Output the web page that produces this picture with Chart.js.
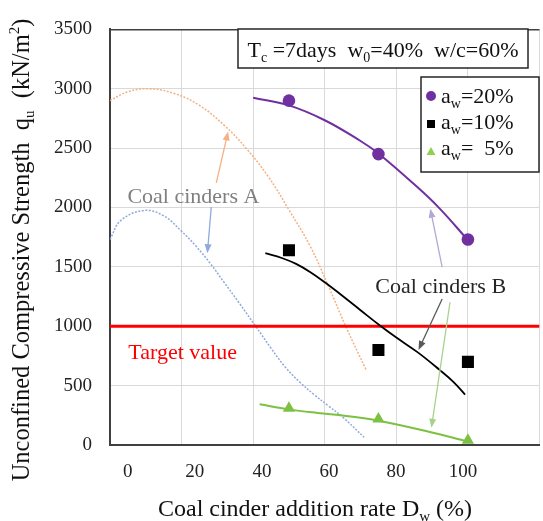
<!DOCTYPE html>
<html>
<head>
<meta charset="utf-8">
<script src="https://cdn.jsdelivr.net/npm/chart.js@4/dist/chart.umd.min.js"></script>
<style>
  html, body { margin: 0; padding: 0; background: #fff; overflow: hidden; }
  #wrap { width: 548px; height: 521px; }
</style>
</head>
<body>
<div id="wrap"><canvas id="chart" width="548" height="521"></canvas></div>
<script>
// x tick labels (%)
const xTickLabels = [0, 20, 40, 60, 80, 100];
const yTicks = [0, 500, 1000, 1500, 2000, 2500, 3000, 3500];

// measured points, coal cinders B
const rateMeasured = [50, 75, 100];
const qu20 = [2900, 2450, 1730];
const qu10 = [1640, 800, 700];
const qu5 = [310, 220, 40];

// trend curves of coal cinders B
const trend20X = [40, 50, 60, 70, 75, 85, 92, 100];
const trend20Y = [2925, 2860, 2735, 2560, 2455, 2195, 1995, 1725];
const trend10X = [43.4, 48, 52, 56, 60, 65, 70, 75.7, 80, 86, 92, 96, 99.2];
const trend10Y = [1615, 1575, 1525, 1455, 1370, 1255, 1135, 1000, 905, 780, 635, 530, 425];
const trend5X = [41.8, 50, 58, 66, 75, 88, 100];
const trend5Y = [343, 300, 270, 245, 205, 120, 30];

// coal cinders A curves (dotted)
const curveA1X = [0, 5, 11, 18, 25, 32, 38, 44, 50, 56, 61, 66, 71.6];
const curveA1Y = [2900, 2975, 3000, 2960, 2860, 2690, 2500, 2270, 1980, 1670, 1340, 990, 630];
const curveA2X = [0, 3, 9.5, 15, 20, 24, 28, 32, 36, 40.7, 45, 49, 53, 57, 61, 65, 71];
const curveA2Y = [1731, 1890, 1975, 1930, 1800, 1675, 1530, 1365, 1200, 1000, 815, 655, 530, 425, 330, 235, 65];

const targetValue = 1000;

const pts = (xs, ys) => xs.map((x, i) => ({ x: x, y: ys[i] }));

const SERIF = '"Liberation Serif", "Times New Roman", serif';
const FRAME = '#404040';
const GRID = '#d9d9d9';

// rich text with sub/superscripts
function fontFor(p, size) {
    const s = p[1] ? Math.round(size * 0.62) : size;
    return s + 'px ' + SERIF;
}
function richWidth(ctx, parts, size) {
    let w = 0;
    parts.forEach(p => { ctx.font = fontFor(p, size); w += ctx.measureText(p[0]).width; });
    return w;
}
function drawRich(ctx, parts, x, y, size, align, color) {
    const w = richWidth(ctx, parts, size);
    let cx = align === 'left' ? x : x - w / 2;
    ctx.fillStyle = color;
    ctx.textAlign = 'left';
    ctx.textBaseline = 'alphabetic';
    parts.forEach(p => {
        ctx.font = fontFor(p, size);
        const dy = p[1] === 'sub' ? size * 0.22 : p[1] === 'sup' ? -size * 0.42 : 0;
        ctx.fillText(p[0], cx, y + dy);
        cx += ctx.measureText(p[0]).width;
    });
}

function arrow(ctx, x1, y1, x2, y2, color) {
    const a = Math.atan2(y2 - y1, x2 - x1), L = 9, W = 3.5;
    const c = Math.cos(a), s = Math.sin(a);
    ctx.strokeStyle = color;
    ctx.fillStyle = color;
    ctx.lineWidth = 1.3;
    ctx.beginPath();
    ctx.moveTo(x1, y1);
    ctx.lineTo(x2 - L * c * 0.7, y2 - L * s * 0.7);
    ctx.stroke();
    ctx.beginPath();
    ctx.moveTo(x2, y2);
    ctx.lineTo(x2 - L * c + W * s, y2 - L * s - W * c);
    ctx.lineTo(x2 - L * c - W * s, y2 - L * s + W * c);
    ctx.closePath();
    ctx.fill();
}

// annotation texts and arrows, in data units
const labels = [
    { text: 'Coal cinders A', x: 23.3, y: 2100, color: '#7f7f7f' },
    { text: 'Coal cinders B', x: 92.4, y: 1335, color: '#262626' },
    { text: 'Target value', x: 20.3, y: 780, color: '#ff0000' }
];
const arrows = [
    { from: [29.7, 2208], to: [33.0, 2640], color: '#f4b183' },
    { from: [28.3, 2004], to: [27.2, 1615], color: '#8faadc' },
    { from: [92.8, 1230], to: [86.2, 800], color: '#595959' },
    { from: [92.8, 1497], to: [89.5, 1990], color: '#b4a7d6' },
    { from: [95.0, 1202], to: [89.8, 145], color: '#a9d18e' }
];

const decorPlugin = {
    id: 'decor',
    afterDatasetsDraw(chart) {
        const ctx = chart.ctx;
        const xs = chart.scales.x, ys = chart.scales.y;
        ctx.save();

        arrows.forEach(a => arrow(ctx,
            xs.getPixelForValue(a.from[0]), ys.getPixelForValue(a.from[1]),
            xs.getPixelForValue(a.to[0]), ys.getPixelForValue(a.to[1]), a.color));

        labels.forEach(l => drawRich(ctx, [[l.text]],
            xs.getPixelForValue(l.x), ys.getPixelForValue(l.y) + 7, 22, 'center', l.color));

        // condition box
        ctx.fillStyle = '#fff';
        ctx.fillRect(238, 29, 290, 39);
        ctx.strokeStyle = '#262626';
        ctx.lineWidth = 1.5;
        ctx.strokeRect(238, 29, 290, 39);
        drawRich(ctx, [['T'], ['c', 'sub'], [' =7days  w'], ['0', 'sub'], ['=40%  w/c=60%']],
            383, 57, 22, 'center', '#111');

        // legend box
        ctx.fillStyle = '#fff';
        ctx.fillRect(421, 77, 118, 95);
        ctx.strokeRect(421, 77, 118, 95);
        const rows = [
            { t: '=20%', y: 103, style: 'circle', color: '#7030a0' },
            { t: '=10%', y: 129, style: 'rect', color: '#000000' },
            { t: '=  5%', y: 155, style: 'triangle', color: '#92d050' }
        ];
        rows.forEach(r => {
            ctx.fillStyle = r.color;
            const mx = 431, my = r.y - 6;
            ctx.beginPath();
            if (r.style === 'circle') {
                ctx.arc(mx, my - 1, 5, 0, Math.PI * 2);
            } else if (r.style === 'rect') {
                ctx.rect(mx - 4, my - 3, 8, 8);
            } else {
                ctx.moveTo(mx, my - 2);
                ctx.lineTo(mx + 4.5, my + 6);
                ctx.lineTo(mx - 4.5, my + 6);
                ctx.closePath();
            }
            ctx.fill();
            drawRich(ctx, [['a'], ['w', 'sub'], [r.t]], 441, r.y, 22, 'left', '#111');
        });

        // axis titles
        drawRich(ctx, [['Coal cinder addition rate D'], ['w', 'sub'], [' (%)']],
            315, 516, 24, 'center', '#111');
        ctx.translate(29, 250);
        ctx.rotate(-Math.PI / 2);
        drawRich(ctx, [['Unconfined Compressive Strength  q'], ['u', 'sub'], ['  (kN/m'], ['2', 'sup'], [')']],
            0, 0, 24.5, 'center', '#111');
        ctx.restore();
    }
};

const lineDs = (label, data, color, width, dash) => ({
    label: label,
    data: data,
    showLine: true,
    borderColor: color,
    borderWidth: width,
    borderDash: dash || [],
    pointRadius: 0,
    tension: 0.4,
    fill: false
});
const pointDs = (label, data, color, style, radius) => ({
    label: label,
    data: data,
    showLine: false,
    backgroundColor: color,
    borderColor: color,
    borderWidth: 0,
    pointStyle: style,
    pointRadius: radius
});

new Chart(document.getElementById('chart'), {
    type: 'scatter',
    data: {
        datasets: [
            pointDs('aw=20%', pts(rateMeasured, qu20), '#7030a0', 'circle', 6.3),
            pointDs('aw=10%', pts(rateMeasured, qu10), '#000000', 'rect', 8.5),
            pointDs('aw=5%', pts(rateMeasured, qu5), '#7cc142', 'triangle', 7),
            lineDs('trend 20%', pts(trend20X, trend20Y), '#7030a0', 2),
            lineDs('trend 10%', pts(trend10X, trend10Y), '#000000', 1.8),
            lineDs('trend 5%', pts(trend5X, trend5Y), '#7cc142', 2),
            lineDs('Target value', [{ x: 0, y: targetValue }, { x: 120, y: targetValue }], '#ff0000', 3),
            lineDs('Coal cinders A (1)', pts(curveA1X, curveA1Y), '#f4b183', 1.5, [2, 1.5]),
            lineDs('Coal cinders A (2)', pts(curveA2X, curveA2Y), '#8faadc', 1.5, [2, 1.5])
        ]
    },
    options: {
        responsive: false,
        animation: false,
        layout: { padding: { top: 17, right: 2.5, left: 0, bottom: 0 } },
        plugins: { legend: { display: false }, tooltip: { enabled: false } },
        scales: {
            x: {
                type: 'linear',
                position: 'bottom',
                min: 0,
                max: 120,
                ticks: { display: false, stepSize: 20 },
                grid: { color: GRID, lineWidth: 1, drawTicks: false },
                border: { display: true, color: FRAME, width: 2 },
                afterFit: s => { s.height = 0; }
            },
            xLabels: {
                type: 'linear',
                position: 'bottom',
                min: -5.3,
                max: 122.8,
                afterBuildTicks: s => { s.ticks = xTickLabels.map(v => ({ value: v })); },
                ticks: { color: '#222', padding: 16, maxRotation: 0, callback: v => String(v),
                         font: { family: SERIF, size: 19 } },
                grid: { display: false, drawTicks: false },
                border: { display: false },
                afterFit: s => { s.height = 76; }
            },
            y: {
                min: 0,
                max: 3500,
                afterBuildTicks: s => { s.ticks = yTicks.map(v => ({ value: v })); },
                ticks: { color: '#222', padding: 18, callback: v => String(v),
                         font: { family: SERIF, size: 19 } },
                grid: {
                    drawTicks: false,
                    color: c => (c.tick && (c.tick.value === 3500 || c.tick.value === 0)) ? FRAME : GRID,
                    lineWidth: c => (c.tick && c.tick.value === 3500) ? 1.5 : 1
                },
                border: { display: true, color: FRAME, width: 2 },
                afterFit: s => { s.width = 110; }
            }
        }
    },
    plugins: [decorPlugin]
});
</script>
</body>
</html>
